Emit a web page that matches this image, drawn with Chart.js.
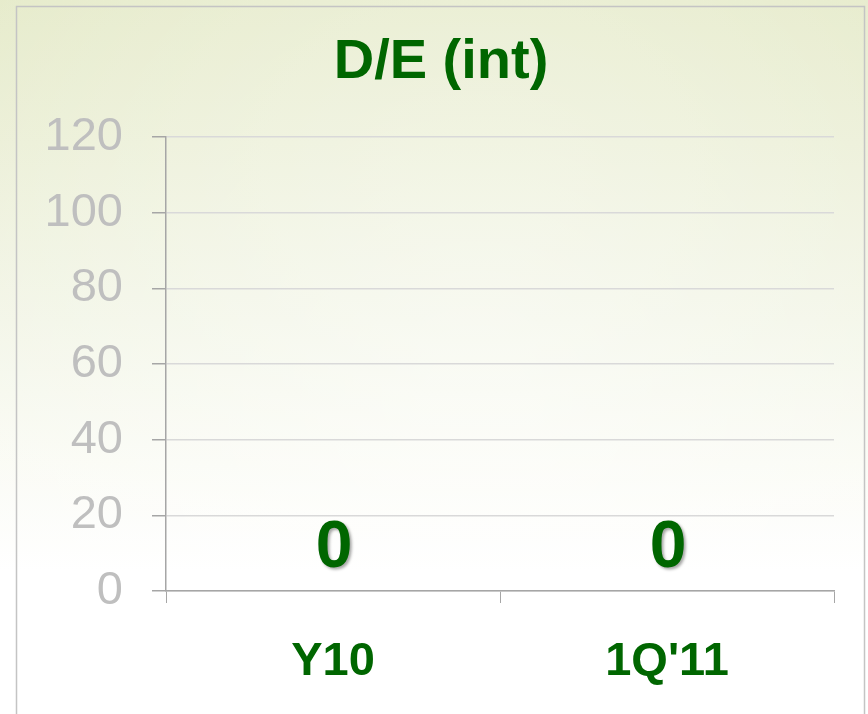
<!DOCTYPE html>
<html>
<head>
<meta charset="utf-8">
<script src="https://cdn.jsdelivr.net/npm/chart.js@4/dist/chart.umd.min.js"></script>
<style>
  html, body { margin: 0; padding: 0; background: #ffffff; }
  #wrap { width: 868px; height: 714px; position: relative; }
  canvas { display: block; }
</style>
</head>
<body>
<div id="wrap"><canvas id="c" width="868" height="714"></canvas></div>
<script>
const titleText = 'D/E (int)';
const categories = ['Y10', "1Q'11"];
const deValues = [0, 0];
const yMin = 0;
const yMax = 120;
const yStep = 20;

const green = '#006600';

const backgroundPlugin = {
  id: 'bgFrame',
  beforeDraw(chart) {
    const ctx = chart.ctx;
    const w = chart.width, h = chart.height;
    ctx.save();
    const g = ctx.createLinearGradient(0, 0, 0, h);
    g.addColorStop(0, '#e6ebcb');
    g.addColorStop(0.2, '#ebefd6');
    g.addColorStop(0.45, '#f2f5e6');
    g.addColorStop(0.65, '#fafbf4');
    g.addColorStop(0.8, '#ffffff');
    g.addColorStop(1, '#ffffff');
    ctx.fillStyle = g;
    ctx.fillRect(0, 0, w, h);
    const g2 = ctx.createRadialGradient(w * 0.55, h * 0.55, 50, w * 0.55, h * 0.55, w * 0.75);
    g2.addColorStop(0, 'rgba(255,255,255,0.45)');
    g2.addColorStop(1, 'rgba(255,255,255,0)');
    ctx.fillStyle = g2;
    ctx.fillRect(0, 0, w, h);
    ctx.strokeStyle = '#c4c4c4';
    ctx.lineWidth = 1.5;
    ctx.strokeRect(16.5, 6.5, 848, h + 10);
    ctx.restore();
  }
};

const valueLabelPlugin = {
  id: 'valueLabels',
  afterDatasetsDraw(chart) {
    const ctx = chart.ctx;
    const meta = chart.getDatasetMeta(0);
    ctx.save();
    ctx.font = 'bold 66px "Liberation Sans", Arial, sans-serif';
    ctx.textAlign = 'center';
    ctx.textBaseline = 'alphabetic';
    meta.data.forEach((bar, i) => {
      const txt = String(chart.data.datasets[0].data[i]);
      const x = bar.x + 1;
      const y = bar.y - 24;
      ctx.shadowColor = 'rgba(0,0,0,0.35)';
      ctx.shadowOffsetX = 2;
      ctx.shadowOffsetY = 2;
      ctx.shadowBlur = 3;
      ctx.fillStyle = green;
      ctx.fillText(txt, x, y);
    });
    ctx.restore();
  }
};

new Chart(document.getElementById('c'), {
  type: 'bar',
  data: {
    labels: categories,
    datasets: [{
      label: 'D/E',
      data: deValues,
      backgroundColor: green,
      borderWidth: 0
    }]
  },
  options: {
    responsive: false,
    animation: false,
    devicePixelRatio: 1,
    layout: { padding: { left: 48, right: 34, top: 9, bottom: 0 } },
    plugins: {
      legend: { display: false },
      tooltip: { enabled: false },
      title: {
        display: true,
        text: titleText,
        color: green,
        font: { family: '"Liberation Sans", Arial, sans-serif', size: 56, weight: 'bold' },
        padding: { top: 20, bottom: 41 }
      }
    },
    scales: {
      x: {
        grid: {
          display: true,
          drawOnChartArea: false,
          drawTicks: true,
          tickLength: 12,
          tickColor: '#a6a6a6',
          offset: true
        },
        border: { display: true, color: '#a6a6a6', width: 1.5 },
        ticks: {
          color: green,
          padding: 31,
          font: { family: '"Liberation Sans", Arial, sans-serif', size: 47, weight: 'bold' }
        },
        afterFit(axis) { axis.height = 123; }
      },
      y: {
        min: yMin,
        max: yMax,
        ticks: {
          stepSize: yStep,
          color: '#bfbfbf',
          padding: 29,
          font: { family: '"Liberation Sans", Arial, sans-serif', size: 47 }
        },
        grid: {
          color: '#d9d9d9',
          lineWidth: 1.5,
          drawTicks: true,
          tickLength: 14,
          tickColor: '#a6a6a6'
        },
        border: { display: true, color: '#a6a6a6', width: 1.5 },
        afterFit(axis) { axis.width = 118; }
      }
    }
  },
  plugins: [backgroundPlugin, valueLabelPlugin]
});
</script>
</body>
</html>
